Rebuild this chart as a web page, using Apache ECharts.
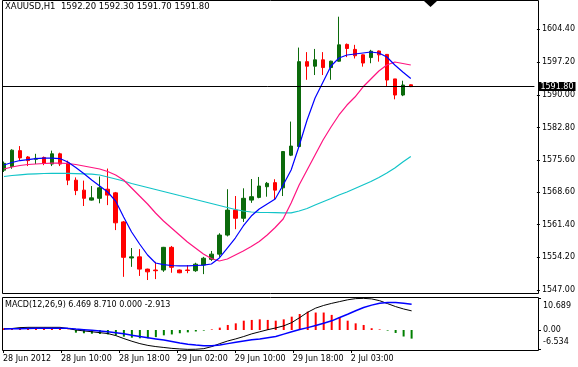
<!DOCTYPE html>
<html><head><meta charset="utf-8">
<script src="https://cdn.jsdelivr.net/npm/echarts@6/dist/echarts.min.js"></script>
<style>html,body{margin:0;padding:0;background:#fff;}#c{width:578px;height:367px;}</style>
</head><body><div id="c"></div>
<script>
const symbol = 'XAUUSD', period = 'H1';
const categories = [
'2012.06.28 03:00','2012.06.28 04:00','2012.06.28 05:00','2012.06.28 06:00','2012.06.28 07:00','2012.06.28 08:00','2012.06.28 09:00','2012.06.28 10:00',
'2012.06.28 11:00','2012.06.28 12:00','2012.06.28 13:00','2012.06.28 14:00','2012.06.28 15:00','2012.06.28 16:00','2012.06.28 17:00','2012.06.28 18:00',
'2012.06.28 19:00','2012.06.28 20:00','2012.06.28 21:00','2012.06.28 22:00','2012.06.28 23:00',
'2012.06.29 00:00','2012.06.29 01:00','2012.06.29 02:00','2012.06.29 03:00','2012.06.29 04:00','2012.06.29 05:00','2012.06.29 06:00','2012.06.29 07:00',
'2012.06.29 08:00','2012.06.29 09:00','2012.06.29 10:00','2012.06.29 11:00','2012.06.29 12:00','2012.06.29 13:00','2012.06.29 14:00','2012.06.29 15:00',
'2012.06.29 16:00','2012.06.29 17:00','2012.06.29 18:00','2012.06.29 19:00','2012.06.29 20:00','2012.06.29 21:00','2012.06.29 22:00',
'2012.07.02 01:00','2012.07.02 02:00','2012.07.02 03:00','2012.07.02 04:00','2012.07.02 05:00','2012.07.02 06:00','2012.07.02 07:00','2012.07.02 08:00'
];
const opens  = [1573.4,1574.2,1577.7,1576.3,1575.8,1576.2,1574.75,1577.0,1575.0,1571.2,1569.0,1566.8,1567.2,1569.2,1568.4,1562.0,1554.05,1554.3,1551.6,1551.4,1551.4,1556.4,1551.4,1551.4,1551.25,1552.5,1553.75,1554.9,1559.1,1564.6,1562.8,1566.8,1567.4,1569.75,1570.65,1569.5,1576.7,1578.6,1597.3,1596.3,1597.7,1596.0,1597.4,1601.1,1600.0,1598.8,1598.2,1599.65,1598.9,1593.5,1589.95,1592.20];
const closes = [1574.9,1577.8,1576.1,1575.5,1576.0,1574.9,1577.0,1574.75,1571.2,1568.9,1567.2,1567.3,1569.5,1567.9,1561.8,1554.2,1554.3,1551.6,1551.0,1551.25,1556.4,1552.0,1550.8,1551.3,1552.7,1554.0,1554.9,1559.1,1564.6,1562.8,1567.2,1567.55,1569.9,1570.5,1569.0,1577.5,1578.7,1597.3,1596.3,1597.7,1596.0,1597.4,1601.0,1600.2,1598.6,1597.0,1599.6,1598.8,1593.25,1589.95,1592.15,1591.80];
const lows   = [1573.0,1573.7,1575.5,1574.3,1574.75,1574.5,1574.3,1574.3,1570.1,1567.9,1565.5,1566.7,1566.1,1565.7,1560.2,1549.9,1552.1,1550.1,1549.2,1549.4,1551.0,1550.8,1550.7,1550.7,1551.0,1550.5,1553.4,1554.3,1558.8,1560.4,1562.0,1566.2,1567.2,1567.55,1567.0,1567.7,1576.5,1578.5,1593.3,1594.35,1594.35,1593.3,1597.3,1598.3,1598.0,1596.2,1596.95,1597.3,1591.8,1589.0,1589.7,1591.70];
const highs  = [1575.3,1578.0,1578.7,1576.5,1577.0,1576.4,1577.7,1577.25,1575.5,1571.8,1571.1,1569.9,1572.0,1573.75,1568.6,1562.2,1556.25,1556.0,1551.7,1553.2,1556.5,1556.7,1551.5,1552.5,1553.0,1554.3,1555.6,1559.5,1569.2,1567.7,1569.4,1571.45,1571.9,1570.8,1571.4,1577.6,1584.1,1600.4,1599.4,1600.1,1599.4,1597.5,1607.2,1601.3,1601.0,1598.9,1599.9,1599.75,1598.95,1593.5,1593.1,1592.30];
const maFast = [1574.53,1575.08,1575.52,1575.74,1575.96,1576.07,1576.07,1575.96,1575.19,1573.98,1572.66,1571.23,1569.91,1568.59,1566.60,1563.08,1559.78,1557.13,1554.71,1552.95,1552.6,1552.4,1552.3,1552.3,1552.4,1552.5,1552.73,1554.05,1556.25,1558.45,1561.10,1563.30,1564.84,1565.94,1567.04,1570.13,1573.43,1578.72,1584.44,1589.29,1592.81,1596.34,1598.10,1598.76,1598.98,1599.20,1599.42,1599.20,1598.32,1596.56,1595.02,1593.59];
const maMid  = [1573.65,1574.09,1574.42,1574.64,1574.75,1574.86,1574.97,1574.97,1574.86,1574.64,1574.31,1573.98,1573.65,1573.10,1572.33,1571.23,1569.47,1567.70,1565.94,1563.96,1562.20,1560.66,1559.11,1557.57,1556.25,1554.93,1553.94,1553.39,1553.83,1554.71,1555.59,1556.58,1557.68,1559.11,1560.77,1562.64,1566.16,1570.13,1573.43,1576.74,1580.04,1582.90,1585.55,1587.75,1589.51,1591.71,1593.48,1595.24,1596.56,1597.22,1596.89,1596.56];
const maSlow = [1572.00,1572.22,1572.37,1572.51,1572.59,1572.66,1572.70,1572.70,1572.68,1572.64,1572.59,1572.51,1572.33,1571.89,1571.45,1571.01,1570.46,1570.02,1569.58,1569.14,1568.70,1568.26,1567.81,1567.37,1566.93,1566.49,1566.05,1565.61,1565.17,1564.73,1564.40,1564.18,1564.11,1564.07,1564.03,1564.00,1564.00,1564.40,1564.95,1565.72,1566.45,1567.15,1567.93,1568.59,1569.36,1570.13,1570.90,1571.78,1572.77,1573.87,1575.19,1576.41];
const macdMain   = [0.4,0.5,0.8,0.9,0.9,0.9,0.9,0.9,0.5,0.0,-0.3,-0.6,-0.9,-1.2,-1.9,-2.9,-3.8,-4.6,-5.2,-5.6,-5.9,-6.2,-6.4,-6.534,-6.5,-6.3,-5.6,-4.6,-3.7,-3.0,-2.2,-1.3,-0.6,0.1,0.7,1.4,2.5,4.2,6.0,7.4,8.3,9.0,9.6,10.2,10.6,10.689,10.5,9.9,8.9,7.9,7.1,6.469];
const macdSignal = [0.35,0.4,0.45,0.5,0.55,0.55,0.6,0.6,0.55,0.3,0.1,-0.1,-0.3,-0.6,-0.9,-1.3,-1.8,-2.2,-2.6,-3.0,-3.4,-3.9,-4.4,-4.8,-5.1,-5.3,-5.35,-5.1,-4.6,-4.1,-3.7,-3.3,-3.0,-2.6,-2.2,-1.4,-0.6,0.2,0.8,1.5,2.3,3.1,4.2,5.3,6.5,7.6,8.4,9.0,9.3,9.3,9.0,8.71];
const macdHist   = [0.6,0.5,0.6,0.5,0.4,0.6,0.5,0.4,0.1,-0.9,-1.1,-1.25,-1.35,-1.5,-1.8,-2.25,-2.6,-2.8,-2.8,-2.4,-1.8,-1.5,-1.1,-0.8,-0.5,-0.2,0.2,0.8,1.7,2.25,3.15,3.4,3.6,3.4,3.15,3.6,4.5,5.4,6.2,5.9,5.9,5.1,4.3,3.15,2.25,1.7,0.6,0.2,-0.2,-1.0,-2.2,-2.913];
const priceTicks = [1547.00,1554.20,1561.40,1568.60,1575.60,1582.80,1590.00,1597.20,1604.40];
const macdTicks = [-6.534,0,10.689];
const timeLabels = ['28 Jun 2012','28 Jun 10:00','28 Jun 18:00','29 Jun 02:00','29 Jun 10:00','29 Jun 18:00','2 Jul 03:00'];

const FONT = 'DejaVu Sans';
const FS = 8;
const shiftBars = 15;
const axisCats = categories.concat(Array.from({length: shiftBars}, (_, k) => 'shift' + k));
const candleData = categories.map((_, i) => [opens[i], closes[i], lows[i], highs[i]]);
const n = categories.length;
const lastClose = closes[n - 1];
const title = symbol + ',' + period + '  ' + opens[n-1].toFixed(2) + ' ' + highs[n-1].toFixed(2) + ' ' + lows[n-1].toFixed(2) + ' ' + closes[n-1].toFixed(2);
const histUp = macdHist.map(v => v > 0 ? v : '-');
const histDn = macdHist.map(v => v < 0 ? v : '-');
const lastUp = macdHist[n-1] > 0 ? macdHist[n-1] : 0;
const lastDn = macdHist[n-1] < 0 ? macdHist[n-1] : 0;
const macdTitle = 'MACD(12,26,9) ' + macdMain[n-1].toFixed(3) + ' ' + macdSignal[n-1].toFixed(3) + ' ' + lastUp.toFixed(3) + ' ' + lastDn.toFixed(3);
const labelIdx = timeLabels.map((_, k) => k);

const hiddenCat = (g) => ({type: 'category', gridIndex: g, data: axisCats, boundaryGap: true,
  axisLine: {show: false}, axisTick: {show: false}, axisLabel: {show: false}, splitLine: {show: false}});

const chart = echarts.init(document.getElementById('c'), null, {renderer: 'canvas'});
chart.setOption({
  animation: false,
  backgroundColor: '#ffffff',
  textStyle: {fontFamily: FONT},
  grid: [
    {left: -0.5, top: 3, width: 536, height: 290},
    {left: -0.5, top: 297, width: 536, height: 53},
    {left: 2.7, top: 297, width: 522, height: 53}
  ],
  xAxis: [
    hiddenCat(0),
    hiddenCat(1),
    {type: 'value', gridIndex: 2, min: 0, max: 9, splitLine: {show: false},
      axisLine: {show: false},
      axisTick: {show: true, customValues: labelIdx, length: 3, lineStyle: {color: '#000'}},
      axisLabel: {customValues: labelIdx, formatter: v => timeLabels[Math.round(v)] || '', align: 'left',
        margin: 5, fontSize: FS, fontFamily: FONT, color: '#000'}}
  ],
  yAxis: [
    {type: 'value', gridIndex: 0, position: 'right', offset: 2.5, min: 1546.34, max: 1610.22, scale: true,
      splitLine: {show: false}, axisLine: {show: false},
      axisTick: {show: true, customValues: priceTicks, length: 3, lineStyle: {color: '#000'}},
      axisLabel: {customValues: priceTicks, formatter: v => v.toFixed(2), margin: 5, fontSize: FS, fontFamily: FONT, color: '#000'}},
    {type: 'value', gridIndex: 1, position: 'right', offset: 2.5, min: -6.754, max: 11.145,
      splitLine: {show: false}, axisLine: {show: false},
      axisTick: {show: true, customValues: macdTicks, length: 3, lineStyle: {color: '#000'}},
      axisLabel: {customValues: macdTicks, margin: 5, fontSize: FS, fontFamily: FONT, color: '#000',
        formatter: v => v === 0 ? '0.00' : (v > 0 ? '{hi|' + v.toFixed(3) + '}' : '{lo|' + v.toFixed(3) + '}'),
        rich: {hi: {padding: [16, 0, 0, 0], fontSize: FS, fontFamily: FONT, color: '#000'},
               lo: {padding: [0, 0, 14, 0], fontSize: FS, fontFamily: FONT, color: '#000'}}}},
    {type: 'value', gridIndex: 2, show: false}
  ],
  series: [
    {type: 'line', xAxisIndex: 0, yAxisIndex: 0, data: maSlow, showSymbol: false, silent: true,
      lineStyle: {color: '#12c4c8', width: 1.2}},
    {type: 'line', xAxisIndex: 0, yAxisIndex: 0, data: maMid, showSymbol: false, silent: true,
      lineStyle: {color: '#ff1480', width: 1.2}},
    {type: 'candlestick', xAxisIndex: 0, yAxisIndex: 0, data: candleData, barWidth: 4,
      itemStyle: {color: '#0b6a0b', color0: '#ff0000', borderColor: '#0b6a0b', borderColor0: '#ff0000', borderWidth: 1},
      markLine: {silent: true, symbol: 'none', animation: false,
        lineStyle: {color: '#000', width: 1, type: 'solid'},
        label: {position: 'end', distance: 4, formatter: lastClose.toFixed(2), backgroundColor: '#000', color: '#fff',
          padding: [1, 2, 0, 2], fontSize: FS, fontFamily: FONT},
        data: [{yAxis: lastClose}]}},
    {type: 'line', xAxisIndex: 0, yAxisIndex: 0, data: maFast, showSymbol: false, silent: true,
      lineStyle: {color: '#0000ff', width: 1.2}},
    {type: 'bar', xAxisIndex: 1, yAxisIndex: 1, data: histUp, barWidth: 2, barGap: '-100%', silent: true,
      itemStyle: {color: '#ff0000'}},
    {type: 'bar', xAxisIndex: 1, yAxisIndex: 1, data: histDn, barWidth: 2, barGap: '-100%', silent: true,
      itemStyle: {color: '#008000'}},
    {type: 'line', xAxisIndex: 1, yAxisIndex: 1, data: macdMain, showSymbol: false, silent: true,
      lineStyle: {color: '#000000', width: 1}},
    {type: 'line', xAxisIndex: 1, yAxisIndex: 1, data: macdSignal, showSymbol: false, silent: true,
      lineStyle: {color: '#0000ff', width: 1.5}}
  ],
  graphic: [
    {type: 'rect', shape: {x: 2.5, y: 0.5, width: 536, height: 293}, style: {fill: null, stroke: '#000', lineWidth: 1}, silent: true, z: 100},
    {type: 'rect', shape: {x: 2.5, y: 297.5, width: 536, height: 53}, style: {fill: null, stroke: '#000', lineWidth: 1}, silent: true, z: 100},
    {type: 'rect', shape: {x: 0, y: 0, width: 2, height: 367}, style: {fill: '#fff'}, silent: true, z: 99},
    {type: 'polygon', shape: {points: [[424, 1], [437, 1], [430.5, 7]]}, style: {fill: '#000'}, silent: true, z: 101},
    {type: 'text', x: 5, y: 2, style: {text: title, font: '8.5px "' + FONT + '"', fill: '#000', textVerticalAlign: 'top'}, silent: true, z: 101},
    {type: 'text', x: 5, y: 301, style: {text: macdTitle, font: FS + 'px "' + FONT + '"', fill: '#000', textVerticalAlign: 'top'}, silent: true, z: 101}
  ]
});
</script></body></html>
